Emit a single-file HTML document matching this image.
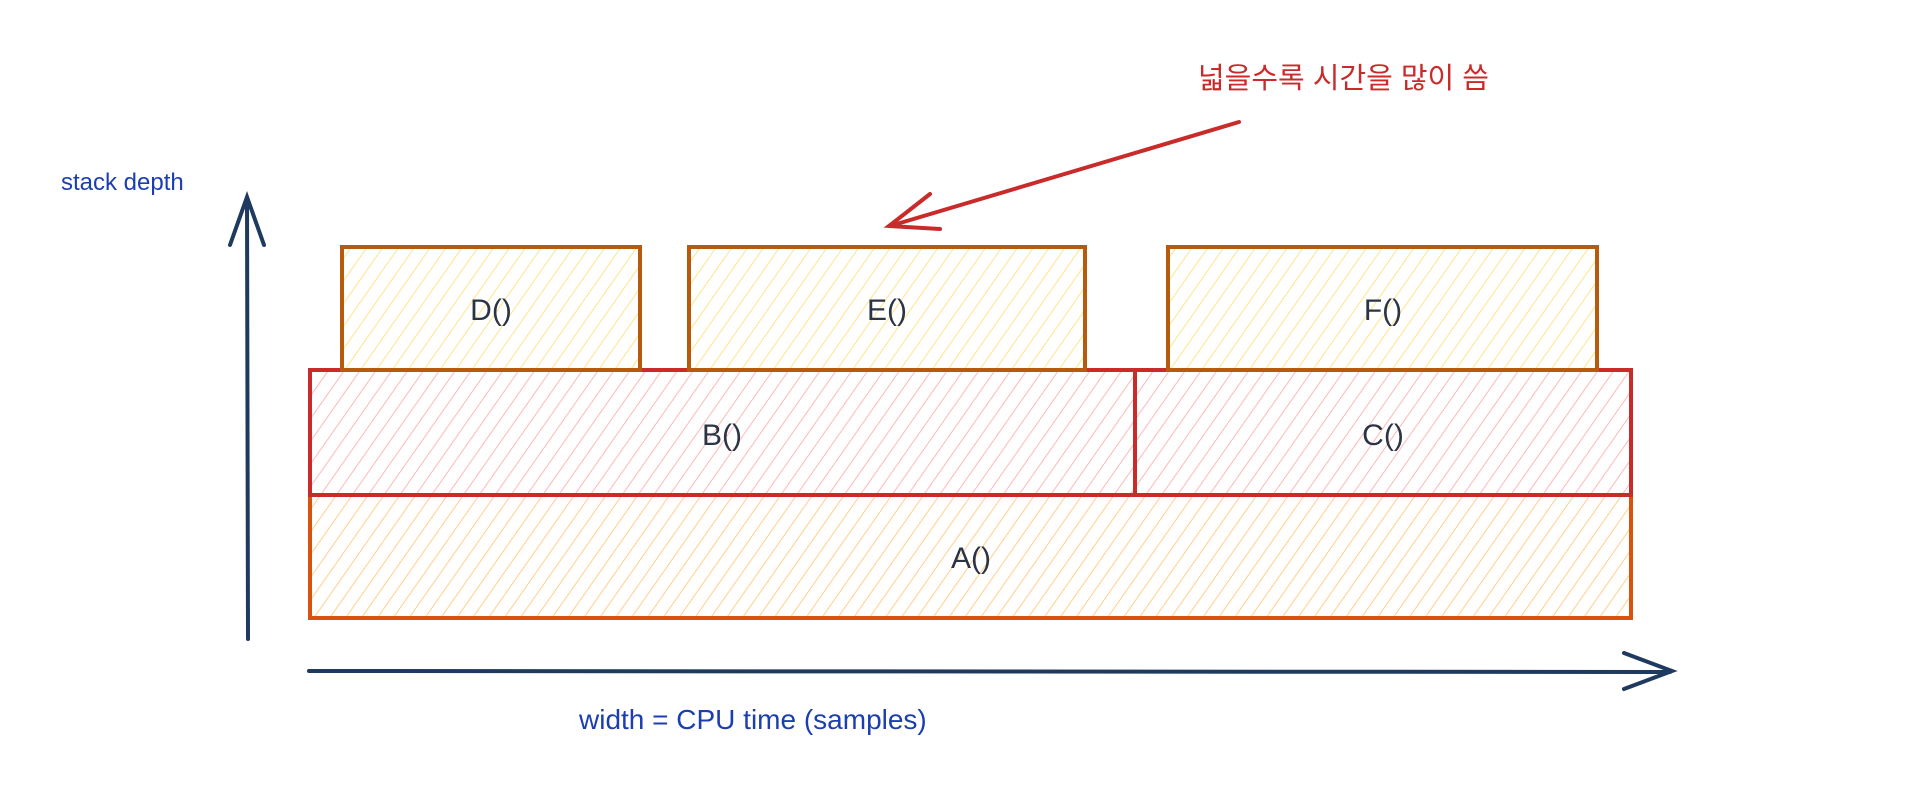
<!DOCTYPE html>
<html><head><meta charset="utf-8"><style>
html,body{margin:0;padding:0;background:#fff;width:1920px;height:809px;overflow:hidden}
svg{display:block}
</style></head><body>
<svg width="1920" height="809" viewBox="0 0 1920 809" xmlns="http://www.w3.org/2000/svg">
<defs>
<pattern id="py" width="13" height="13" patternUnits="userSpaceOnUse" patternTransform="rotate(35)">
<line x1="0" y1="0" x2="0" y2="13" stroke="#ffe48a" stroke-width="2"/></pattern>
<pattern id="pp" width="13" height="13" patternUnits="userSpaceOnUse" patternTransform="rotate(35)">
<line x1="0" y1="0" x2="0" y2="13" stroke="#ffb8b8" stroke-width="2"/></pattern>
<pattern id="po" width="13" height="13" patternUnits="userSpaceOnUse" patternTransform="rotate(35)">
<line x1="0" y1="0" x2="0" y2="13" stroke="#ffcf8f" stroke-width="2"/></pattern>
</defs>
<g font-family="Liberation Sans, sans-serif">
<text x="61" y="190" font-size="24" fill="#1c3fb0">stack depth</text>
<text x="579" y="729" font-size="28" fill="#1c3fb0">width = CPU time (samples)</text>
<text x="1198" y="88" font-size="29" fill="#c92a2a" font-family="Liberation Sans, Noto Sans CJK KR, sans-serif">넓을수록 시간을 많이 씀</text>
</g>
<g stroke="#1e3a5f" stroke-width="4" fill="none" stroke-linecap="round">
<line x1="247" y1="198" x2="248" y2="639"/>
<polyline points="230,245 247,197 264,245"/>
<line x1="309" y1="671" x2="1670" y2="672"/>
<polyline points="1624,653 1672,671 1624,689"/>
</g>
<rect x="310" y="495" width="1321" height="123" fill="url(#po)" stroke="#d9530f" stroke-width="4"/>
<rect x="310" y="370" width="825" height="125" fill="url(#pp)" stroke="#c92a2a" stroke-width="4"/>
<rect x="1135" y="370" width="496" height="125" fill="url(#pp)" stroke="#c92a2a" stroke-width="4"/>
<rect x="342" y="247" width="298" height="123" fill="url(#py)" stroke="#b85a0c" stroke-width="4"/>
<rect x="689" y="247" width="396" height="123" fill="url(#py)" stroke="#b85a0c" stroke-width="4"/>
<rect x="1168" y="247" width="429" height="123" fill="url(#py)" stroke="#b85a0c" stroke-width="4"/>
<g font-family="Liberation Sans, sans-serif" font-size="30" fill="#2b3445" text-anchor="middle">
<text x="491" y="320">D()</text>
<text x="887" y="320">E()</text>
<text x="1383" y="320">F()</text>
<text x="722" y="445">B()</text>
<text x="1383" y="445">C()</text>
<text x="971" y="568">A()</text>
</g>
<g stroke="#c92a2a" stroke-width="4" fill="none" stroke-linecap="round">
<line x1="1239" y1="122" x2="890" y2="226"/>
<polyline points="930,194 889,226 940,229"/>
</g>
</svg>
</body></html>
